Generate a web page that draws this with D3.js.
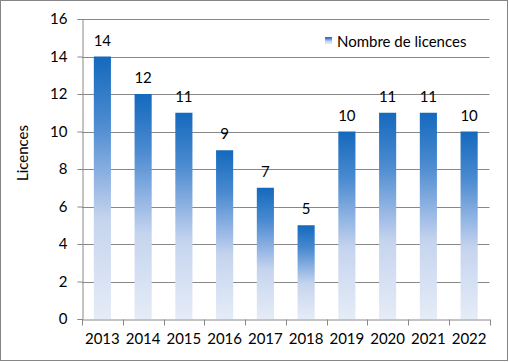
<!DOCTYPE html>
<html><head><meta charset="utf-8">
<script src="https://cdn.jsdelivr.net/npm/d3@7/dist/d3.min.js"></script>
<style>body{margin:0;background:#fff}svg{display:block}text{font-family:Lato,"Open Sans",sans-serif;fill:#000}</style>
</head><body><svg id="c" width="509" height="362"></svg>
<script>
const years = ["2013","2014","2015","2016","2017","2018","2019","2020","2021","2022"];
const licences = [14,12,11,9,7,5,10,11,11,10];
const yTicks = [0,2,4,6,8,10,12,14,16];
const seriesName = "Nombre de licences";
const axisTitle = "Licences";

const svg = d3.select("#c");
const W=509,H=362;
const m={l:82,r:19.5,t:19,b:43};
const FS=15;
const x=d3.scaleBand().domain(years).range([m.l,W-m.r]).paddingInner(0.58).paddingOuter(0.29);
const y=d3.scaleLinear().domain([0,16]).range([H-m.b,m.t]);

svg.append("rect").attr("x",0.5).attr("y",0.5).attr("width",W-2).attr("height",H-2).attr("fill","#fff").attr("stroke","#868686");

const defs=svg.append("defs");
const g=defs.append("linearGradient").attr("id","grad").attr("x1",0).attr("y1",0).attr("x2",0).attr("y2",1);
[[0,"#1469bd"],[0.25,"#4a8ad0"],[0.5,"#9dbbe6"],[0.62,"#c5d4ee"],[1,"#e5ecf7"]].forEach(([o,c])=>g.append("stop").attr("offset",o).attr("stop-color",c));

// gridlines
svg.append("g").selectAll("line").data(yTicks.filter(d=>d>0)).join("line")
 .attr("x1",m.l).attr("x2",W-m.r).attr("y1",d=>Math.round(y(d))+0.5).attr("y2",d=>Math.round(y(d))+0.5)
 .attr("stroke","#888").attr("stroke-width",1);

// bars
svg.append("g").selectAll("rect").data(licences).join("rect")
 .attr("x",(d,i)=>x(years[i])).attr("width",x.bandwidth())
 .attr("y",d=>y(d)).attr("height",d=>y(0)-y(d)).attr("fill","url(#grad)");

// labels
svg.append("g").selectAll("text").data(licences).join("text")
 .attr("x",(d,i)=>x(years[i])+x.bandwidth()/2).attr("y",d=>y(d)-11)
 .attr("text-anchor","middle").attr("font-size",FS).text(d=>d);

// y axis
const ya=svg.append("g").attr("transform",`translate(${m.l+0.5},0)`)
 .call(d3.axisLeft(y).tickValues(yTicks).tickSize(5).tickPadding(10));
ya.selectAll("text").attr("font-size",FS).attr("font-family","Lato,sans-serif");
ya.selectAll("line,path").attr("stroke","#888");

// x axis
const xa=svg.append("g").attr("transform",`translate(0,${Math.round(y(0))+0.5})`)
 .call(d3.axisBottom(x).tickSize(0).tickPadding(14));
xa.select(".domain").attr("stroke","#888");
xa.selectAll("text").attr("font-size",FS).attr("font-family","Lato,sans-serif");
const bounds=d3.range(years.length+1).map(i=>m.l+i*(W-m.r-m.l)/years.length);
xa.selectAll(".bt").data(bounds).join("line").attr("class","bt")
 .attr("x1",d=>Math.round(d)+0.5).attr("x2",d=>Math.round(d)+0.5).attr("y1",0).attr("y2",6).attr("stroke","#888");

// axis title
svg.append("text").attr("transform","translate(28,153) rotate(-90)").attr("text-anchor","middle")
 .attr("font-size",FS).text(axisTitle);

// legend
svg.append("rect").attr("x",325).attr("y",37).attr("width",7).attr("height",7).attr("fill","url(#grad)");
svg.append("text").attr("x",337).attr("y",47).attr("font-size",FS).text(seriesName);
</script></body></html>
